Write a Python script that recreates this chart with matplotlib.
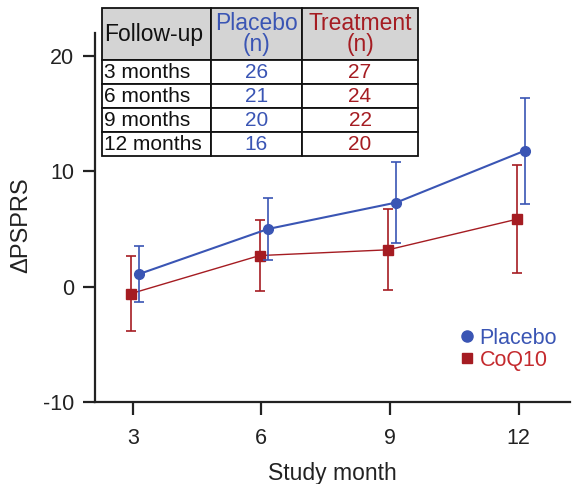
import matplotlib
matplotlib.use('Agg')
import matplotlib.pyplot as plt
from matplotlib.lines import Line2D
from matplotlib.patches import Rectangle
import numpy as np

plt.rcParams['font.family'] = ['Liberation Sans', 'DejaVu Sans']
plt.rcParams['axes.unicode_minus'] = False

# Data
months = np.array([3, 6, 9, 12])
placebo_mean = [1.1, 5.0, 7.3, 11.8]
placebo_err = [2.4, 2.7, 3.55, 4.6]
coq10_mean = [-0.6, 2.7, 3.2, 5.85]
coq10_err = [3.25, 3.05, 3.5, 4.7]

followup = ['3 months', '6 months', '9 months', '12 months']
n_placebo = [26, 21, 20, 16]
n_treatment = [27, 24, 22, 20]

blue = '#3a55b4'
red = '#a51c22'
red_txt = '#c42a2e'
dark = '#222222'

fig = plt.figure(figsize=(5.74, 4.84), dpi=100)
ax = fig.add_axes([0.1655, 0.1694, 0.8275, 0.7624])

ax.errorbar(months + 0.15, placebo_mean, yerr=placebo_err, color=blue, marker='o',
            markersize=7, linewidth=1.5, elinewidth=1.2, capsize=3.5, capthick=1.2, zorder=3)
ax.errorbar(months - 0.04, coq10_mean, yerr=coq10_err, color=red, marker='s',
            markersize=6.5, linewidth=1.0, elinewidth=1.2, capsize=3.5, capthick=1.2, zorder=2)

ax.set_xlim(2.12, 13.2)
ax.set_ylim(-10, 22)
ax.set_xticks(months)
ax.set_yticks([-10, 0, 10, 20])
for s in ['top', 'right']:
    ax.spines[s].set_visible(False)
for s in ['left', 'bottom']:
    ax.spines[s].set_linewidth(1.6)
    ax.spines[s].set_color(dark)
ax.tick_params(length=9, width=1.6, labelsize=15.5, color=dark, labelcolor=dark)
ax.tick_params(axis='x', pad=10)
ax.tick_params(axis='y', pad=6)
ax.set_xlabel('Study month', fontsize=16.5, color=dark, labelpad=9)
ax.set_ylabel('ΔPSPRS', fontsize=17, color=dark)
ax.yaxis.set_label_coords(-0.132, 0.48)

handles = [Line2D([], [], color=blue, marker='o', linestyle='none', markersize=8),
           Line2D([], [], color=red, marker='s', linestyle='none', markersize=6.5)]
leg = ax.legend(handles, ['Placebo', 'CoQ10'], loc='lower right', bbox_to_anchor=(1.0, 0.05),
                frameon=False, fontsize=15.5, handlelength=0.6, handletextpad=0.3,
                labelspacing=0.05, borderaxespad=0.2)
leg.get_texts()[0].set_color(blue)
leg.get_texts()[1].set_color(red_txt)

# Table drawn in pixel coordinates (top-left origin)
W, H = 574, 484
col_x = [102, 211, 302, 418]
row_y = [8, 60, 84, 108, 132, 156]

def px(x, y):
    return x / W, 1 - y / H

def cell(x0, x1, y0, y1, face):
    fx0, fy1 = px(x0, y1)
    r = Rectangle((fx0, fy1), (x1 - x0) / W, (y1 - y0) / H, transform=fig.transFigure,
                  facecolor=face, edgecolor='#111111', linewidth=1.3, zorder=5)
    fig.add_artist(r)

for c in range(3):
    cell(col_x[c], col_x[c + 1], row_y[0], row_y[1], '#d4d4d4')
for r in range(4):
    for c in range(3):
        cell(col_x[c], col_x[c + 1], row_y[r + 1], row_y[r + 2], 'white')

hy = (row_y[0] + row_y[1]) / 2
fig.text(*px(col_x[0] + 2, hy), 'Follow-up', ha='left', va='center', fontsize=16.5, color='#111111', zorder=6)
fig.text(*px((col_x[1] + col_x[2]) / 2, hy), 'Placebo\n(n)', ha='center', va='center', fontsize=16.5,
         color=blue, linespacing=0.9, zorder=6)
fig.text(*px((col_x[2] + col_x[3]) / 2, hy), 'Treatment\n(n)', ha='center', va='center', fontsize=16.5,
         color=red, linespacing=0.9, zorder=6)
for i in range(4):
    yc = (row_y[i + 1] + row_y[i + 2]) / 2 + 0.5
    fig.text(*px(col_x[0] + 2, yc), followup[i], ha='left', va='center', fontsize=15, color='#111111', zorder=6)
    fig.text(*px((col_x[1] + col_x[2]) / 2, yc), str(n_placebo[i]), ha='center', va='center',
             fontsize=15, color=blue, zorder=6)
    fig.text(*px((col_x[2] + col_x[3]) / 2, yc), str(n_treatment[i]), ha='center', va='center',
             fontsize=15, color=red, zorder=6)

fig.savefig('out.png', dpi=100)
